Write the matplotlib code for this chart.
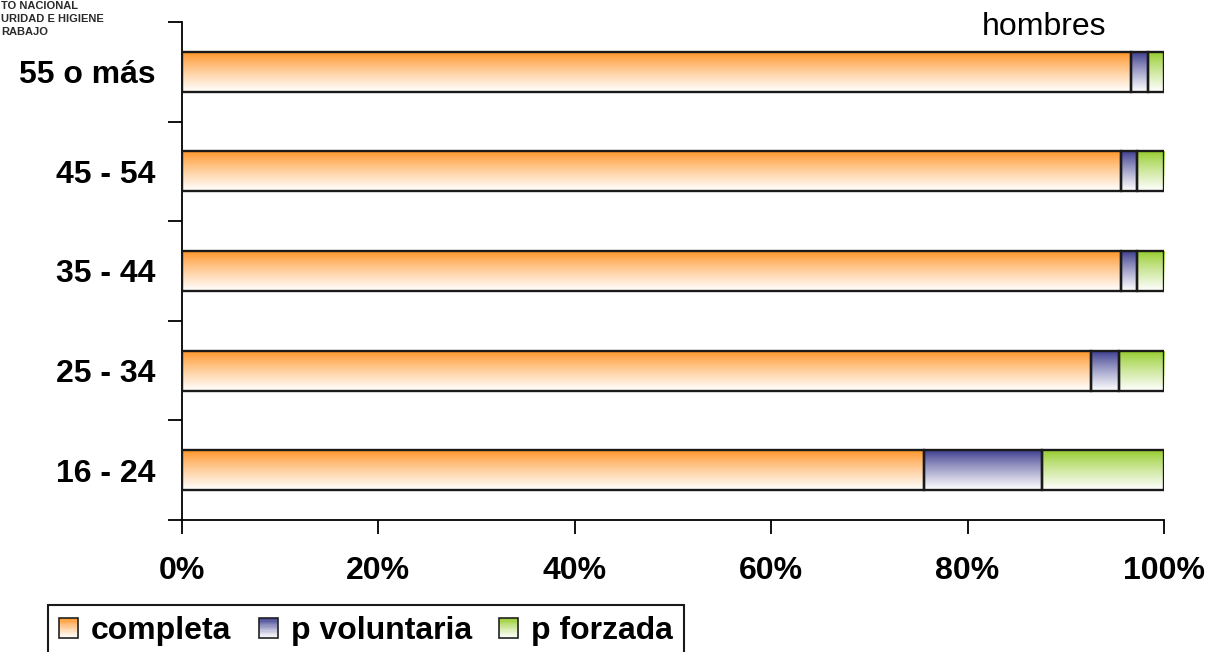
import matplotlib
matplotlib.use('Agg')
import matplotlib.pyplot as plt
from matplotlib.legend_handler import HandlerBase
from matplotlib.patches import Rectangle
from matplotlib.ticker import FixedLocator
import matplotlib.colors as mcolors
import numpy as np

categories = ['16 - 24', '25 - 34', '35 - 44', '45 - 54', '55 o más']
completa = [75.6, 92.6, 95.6, 95.6, 96.6]
voluntaria = [12.0, 2.8, 1.6, 1.6, 1.8]
forzada = [12.4, 4.6, 2.8, 2.8, 1.6]

series_names = ['completa', 'p voluntaria', 'p forzada']
series_colors = ['#ff9426', '#3b3b8e', '#94cc2a']
x_ticks = [0, 20, 40, 60, 80, 100]

plt.rcParams['font.family'] = ['Liberation Sans', 'DejaVu Sans']


def gradient(color, n=64):
	"""
	Column of colours going from color (top) to white (bottom).
	"""

	top = np.array(mcolors.to_rgb(color))
	white = np.array([1.0, 1.0, 1.0])
	t = np.linspace(0, 1, n)[:, None] ** 0.85
	col = top * (1 - t) + white * t
	return col[:, None, :]


class GradientHandler(HandlerBase):
	"""
	Legend square filled with the same vertical gradient as the bars.
	"""

	def __init__(self, color):
		super().__init__()
		self.color = color

	def create_artists(self, legend, orig_handle, xdescent, ydescent, width, height, fontsize, trans):
		artists = []
		n = 16
		cols = gradient(self.color, n)[:, 0, :]
		for k in range(n):
			y0 = -ydescent + height * (1 - (k + 1) / n)
			r = Rectangle((-xdescent, y0), width, height / n, facecolor=cols[k],
				edgecolor='none', transform=trans)
			artists.append(r)
		outline = Rectangle((-xdescent, -ydescent), width, height, facecolor='none',
			edgecolor='#222222', linewidth=1.2, transform=trans)
		artists.append(outline)
		return artists


def draw_bars(ax):
	"""
	Stacked horizontal bars with gradient fill
	"""

	height = 0.4
	y = np.arange(len(categories))
	data = [completa, voluntaria, forzada]
	left = np.zeros(len(categories))
	handles = []
	for values, name, color in zip(data, series_names, series_colors):
		values = np.array(values)
		for i in range(len(categories)):
			ax.imshow(gradient(color), extent=(left[i], left[i] + values[i], y[i] - height / 2, y[i] + height / 2),
				aspect='auto', interpolation='bilinear', zorder=2)
		h = ax.barh(y, values, left=left, height=height, fill=False,
			edgecolor='#1a1a1a', linewidth=1.7, zorder=3, label=name)
		handles.append(h)
		left = left + values
	return handles


def main():
	fig = plt.figure(figsize=(12.11, 6.52), dpi=100)
	ax = fig.add_axes([182 / 1211, 132 / 652, 982 / 1211, 498 / 652])

	handles = draw_bars(ax)

	ax.set_xlim(0, 100)
	ax.set_ylim(-0.5, len(categories) - 0.5)
	ax.spines['top'].set_visible(False)
	ax.spines['right'].set_visible(False)
	for s in ['left', 'bottom']:
		ax.spines[s].set_linewidth(1.3)

	ax.set_xticks(x_ticks)
	ax.set_xticklabels([f'{t}%' for t in x_ticks], fontsize=23, fontweight='bold')
	ax.tick_params(axis='x', direction='out', length=10, width=1.3, pad=16)

	ax.set_yticks(np.arange(len(categories)))
	ax.set_yticklabels(categories, fontsize=23, fontweight='bold')
	ax.tick_params(axis='y', which='major', length=0, pad=19)
	ax.yaxis.set_minor_locator(FixedLocator(np.arange(len(categories) + 1) - 0.5))
	ax.tick_params(axis='y', which='minor', direction='out', length=10, width=1.3)

	fig.text(1044 / 1211, 1 - 35 / 652, 'hombres', fontsize=23, ha='center', va='baseline')

	# logo text in the top left corner
	logo = ['TO NACIONAL', 'URIDAD E HIGIENE', 'RABAJO']
	for k, line in enumerate(logo):
		fig.text(1 / 1211, 1 - (9 + 13 * k) / 652, line, fontsize=8, fontweight='bold',
			color='#2a2a2a', ha='left', va='baseline')

	leg = fig.legend(handles, series_names, loc='upper left', bbox_to_anchor=(48 / 1211, 1 - 605 / 652),
		ncol=3, prop={'weight': 'bold', 'size': 23}, frameon=True, fancybox=False,
		framealpha=1, edgecolor='#1a1a1a', borderaxespad=0, borderpad=0.35,
		handlelength=0.6, handleheight=0.6, handletextpad=0.4, columnspacing=0.85,
		handler_map={h: GradientHandler(c) for h, c in zip(handles, series_colors)})
	leg.get_frame().set_linewidth(1.5)

	fig.savefig('out.png', dpi=100)


if __name__ == '__main__':
	main()
